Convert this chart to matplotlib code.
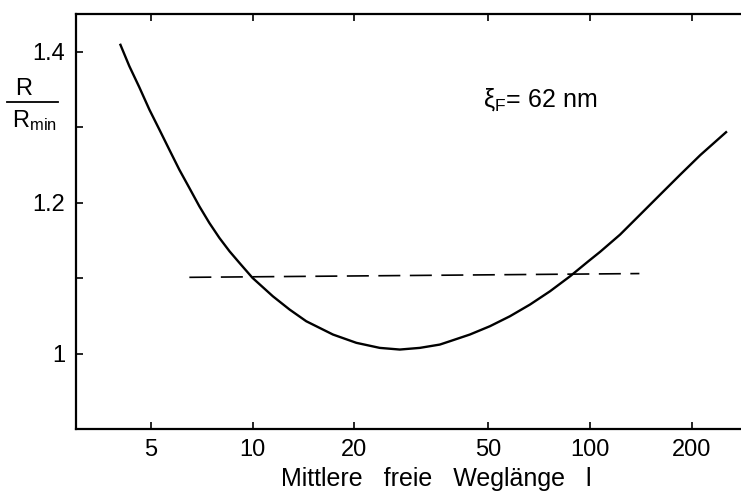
import matplotlib
matplotlib.use("Agg")
import matplotlib.pyplot as plt
from matplotlib.lines import Line2D

plt.rcParams['font.family'] = ['Liberation Sans', 'DejaVu Sans']
plt.rcParams['mathtext.fontset'] = 'custom'
plt.rcParams['mathtext.rm'] = 'Liberation Sans'
plt.rcParams['mathtext.it'] = 'Liberation Sans:italic'

# Curve R/Rmin vs mean free path l
l_vals = [4.05, 4.315, 4.62, 4.95, 5.30, 5.67, 6.07, 6.50, 6.96, 7.45, 7.98,
          8.55, 9.15, 10.0, 11.49, 12.88, 14.43, 17.31, 20.31, 23.82, 27.31,
          31.30, 35.89, 38.43, 44.05, 50.50, 57.88, 66.37, 76.08, 87.25,
          98.85, 107.1, 122.7, 140.7, 161.3, 185.0, 212.1, 254.4]
r_vals = [1.4106, 1.3810, 1.3530, 1.3232, 1.2967, 1.2702, 1.2437, 1.2195,
          1.1951, 1.1731, 1.1532, 1.1355, 1.1201, 1.1003, 1.0759, 1.0583,
          1.0428, 1.0252, 1.0142, 1.0075, 1.0053, 1.0075, 1.0119, 1.0163,
          1.0252, 1.0362, 1.0494, 1.0649, 1.0825, 1.1024, 1.1223, 1.1348,
          1.1576, 1.1841, 1.2106, 1.2371, 1.2630, 1.2944]

# Dashed reference line
dash_l = [6.5, 140]
dash_r = [1.101, 1.106]

x_ticks = [5, 10, 20, 50, 100, 200]
x_ticklabels = ['5', '10', '20', '50', '100', '200']
y_major = [1.0, 1.2, 1.4]
y_major_labels = ['1', '1.2', '1.4']
y_minor = [1.1, 1.3]

W, H = 741, 494
fig = plt.figure(figsize=(W / 100, H / 100), dpi=100)
ax = fig.add_axes([76 / W, (H - 429) / H, (W - 76) / W, (429 - 14) / H])

ax.plot(l_vals, r_vals, color='black', lw=1.7, solid_capstyle='butt',
        solid_joinstyle='round')
lw_d = 1.2
ax.plot(dash_l, dash_r, color='black', lw=lw_d,
        dashes=(22 * 0.72 / lw_d, 9.5 * 0.72 / lw_d))

ax.set_xscale('log')
ax.set_xlim(3.0, 280)
ax.set_ylim(0.9, 1.45)

ax.set_xticks(x_ticks)
ax.set_xticklabels(x_ticklabels)
ax.minorticks_off()
ax.set_yticks(y_major + y_minor)
ax.set_yticklabels(y_major_labels + ['', ''])

ax.tick_params(axis='both', direction='in', length=5, width=1.2,
               labelsize=17, colors='black')
ax.tick_params(axis='x', top=True, pad=7)
ax.tick_params(axis='y', right=False, pad=8)

ax.spines['right'].set_visible(False)
for s in ['left', 'top', 'bottom']:
    ax.spines[s].set_linewidth(1.6)

# x label
fig.text(436 / W, 1 - 479 / H, 'Mittlere   freie   Weglänge   l', ha='center',
         va='center', fontsize=18)

# y label as fraction
fig.text(24 / W, 1 - 89 / H, 'R', ha='center', va='center', fontsize=17)
fig.add_artist(Line2D([7 / W, 58 / W], [1 - 102 / H, 1 - 102 / H],
                      color='black', lw=1.3, transform=fig.transFigure))
fig.text(34 / W, 1 - 121 / H, r'R$_{\mathrm{min}}$', ha='center', va='center',
         fontsize=17)

# annotation
ax.text(0.612, 1 - (100 - 14) / 415, r'ξ$_{\mathrm{F}}$= 62 nm',
        transform=ax.transAxes, ha='left', va='center', fontsize=18)

fig.savefig('out.png', dpi=100)
